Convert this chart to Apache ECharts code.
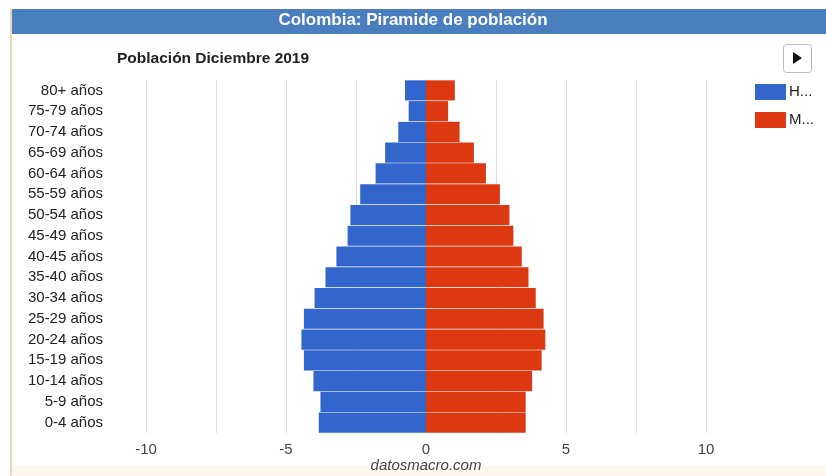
<!DOCTYPE html>
<html>
<head>
<meta charset="utf-8">
<script src="https://cdn.jsdelivr.net/npm/echarts@6/dist/echarts.min.js"></script>
<style>
  html, body { margin: 0; padding: 0; background: #fff; }
  #app { width: 826px; height: 476px; }
</style>
</head>
<body>
<div id="app"></div>
<script>
const ageGroups = [
  "0-4 años", "5-9 años", "10-14 años", "15-19 años", "20-24 años", "25-29 años",
  "30-34 años", "35-40 años", "40-45 años", "45-49 años", "50-54 años", "55-59 años",
  "60-64 años", "65-69 años", "70-74 años", "75-79 años", "80+ años"
];
// % de la población, hombres a la izquierda
const hombres = [3.83, 3.77, 4.02, 4.36, 4.45, 4.36, 3.98, 3.59, 3.2, 2.8, 2.7, 2.35, 1.8, 1.46, 0.99, 0.62, 0.75];
const mujeres = [3.56, 3.56, 3.79, 4.13, 4.26, 4.2, 3.92, 3.66, 3.42, 3.12, 2.98, 2.64, 2.14, 1.71, 1.2, 0.79, 1.03];
const xTicks = [-10, -5, 0, 5, 10];

const font = "Liberation Sans, Arial, sans-serif";
const dom = document.getElementById("app");
const myChart = echarts.init(dom);

myChart.setOption({
  animation: false,
  color: ["#3366cc", "#dc3912"],
  title: [
    {
      text: "Población Diciembre 2019",
      left: 117,
      top: 51,
      padding: 0,
      textStyle: { fontFamily: font, fontSize: 15.5, fontWeight: "bold", color: "#222" }
    },
    {
      text: "datosmacro.com",
      left: 426,
      textAlign: "center",
      top: 458,
      padding: 0,
      textStyle: { fontFamily: font, fontSize: 15, fontStyle: "italic", fontWeight: "normal", color: "#444" }
    }
  ],
  graphic: [
    { type: "rect", left: 11, top: 9, shape: { width: 815, height: 25 }, style: { fill: "#4a7ebf" } },
    {
      type: "text", left: "center", top: 12,
      style: { text: "Colombia: Piramide de población", fill: "#fff", font: "bold 17px " + font }
    },
    { type: "rect", left: 10, top: 9, shape: { width: 2, height: 467 }, style: { fill: "#e8d8bc" } },
    { type: "rect", left: 12, top: 466, shape: { width: 814, height: 10 }, style: { fill: "#fdf8ef" } },
    {
      type: "rect", left: 783, top: 44,
      shape: { width: 28, height: 28, r: 3 },
      style: { fill: "#fff", stroke: "#bbb", lineWidth: 1 }
    },
    {
      type: "polygon",
      shape: { points: [[793, 52], [793, 64], [802, 58]] },
      style: { fill: "#111" }
    }
  ],
  legend: {
    orient: "vertical",
    left: 750,
    top: 79,
    itemWidth: 31,
    itemHeight: 16,
    itemGap: 12,
    icon: "rect",
    textStyle: { fontFamily: font, fontSize: 15, color: "#222", padding: [0, 0, 0, -2] },
    data: ["H...", "M..."]
  },
  grid: { left: 146, right: 120, top: 80, bottom: 43, containLabel: false },
  xAxis: {
    type: "value",
    min: -10,
    max: 10,
    interval: 2.5,
    axisLine: { show: false },
    axisTick: { show: false },
    splitLine: { lineStyle: { color: "#dcdcdc" } },
    axisLabel: {
      fontFamily: font,
      fontSize: 15,
      color: "#444",
      margin: 9,
      formatter: v => (xTicks.includes(v) ? String(v) : "")
    }
  },
  yAxis: {
    type: "category",
    data: ageGroups,
    axisLine: { show: false },
    axisTick: { show: false },
    axisLabel: { fontFamily: font, fontSize: 15, color: "#222", margin: 43 }
  },
  series: [
    {
      name: "H...",
      type: "bar",
      stack: "pop",
      barCategoryGap: "3%",
      data: hombres.map(v => -v)
    },
    {
      name: "M...",
      type: "bar",
      stack: "pop",
      barCategoryGap: "3%",
      data: mujeres
    }
  ]
});
</script>
</body>
</html>
